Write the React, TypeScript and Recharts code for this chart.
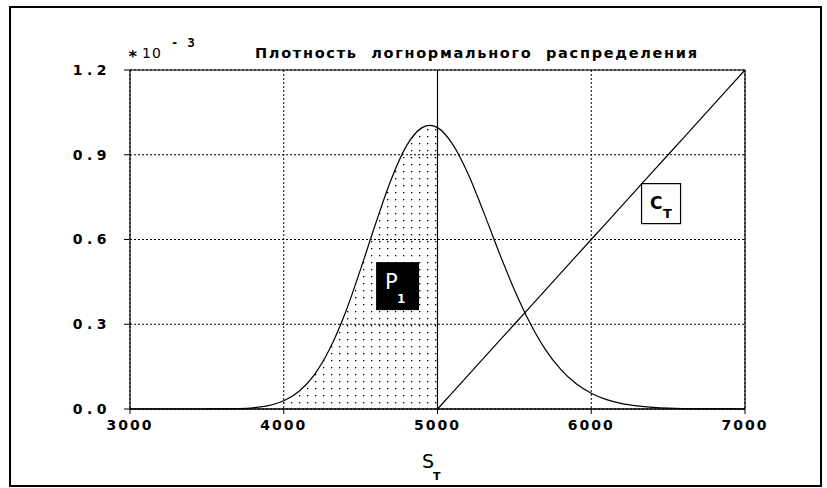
import React from "react";
import {ComposedChart, Line, Area, XAxis, YAxis, CartesianGrid, ReferenceLine, ReferenceDot} from "recharts";

// S_T grid (RUB), density in units of 1e-3
const sValues = [
  3000, 3100, 3200, 3300, 3400, 3500, 3600, 3700, 3800, 3900, 4000, 4100, 4200, 4300, 4400, 4500, 4600, 4700,
  4800, 4900, 4950, 5000, 5100, 5200, 5300, 5400, 5500, 5600, 5700, 5800, 5900, 6000, 6100, 6200, 6300, 6400,
  6500, 6600, 6700, 6800, 6900, 7000,
];
const density = [
  0, 0, 0, 0, 0, 0.0001, 0.0003, 0.0013, 0.0043, 0.0118, 0.029, 0.063, 0.122, 0.214, 0.34, 0.495, 0.66, 0.814,
  0.933, 0.996, 1.004, 0.996, 0.936, 0.831, 0.697, 0.555, 0.422, 0.306, 0.212, 0.141, 0.09, 0.056, 0.033, 0.019,
  0.011, 0.006, 0.003, 0.0015, 0.0007, 0.0003, 0.0001, 0,
];
// payoff line C_T
const ctValues = [
  null, null, null, null, null, null, null, null, null, null, null, null, null, null, null, null, null, null,
  null, null, null, 0, 0.06, 0.12, 0.18, 0.24, 0.3, 0.36, 0.42, 0.48, 0.54, 0.6, 0.66, 0.72, 0.78, 0.84,
  0.9, 0.96, 1.02, 1.08, 1.14, 1.2,
];
const strike = 5000;
const xTicks = [3000, 4000, 5000, 6000, 7000];
const yTicks = [0, 0.3, 0.6, 0.9, 1.2];

const rows = sValues.map((s, i) => ({
  s,
  density: density[i],
  shade: s <= strike ? density[i] : null,
  ct: ctValues[i],
}));

const xTickFont = {fill: "#000", fontSize: 14, fontWeight: 700, fontFamily: "DejaVu Sans", letterSpacing: 2};
const yTickFont = {fill: "#000", fontSize: 14, fontWeight: 700, fontFamily: "DejaVu Sans", letterSpacing: 4.5};

function P1Box(props: any) {
  const {cx, cy} = props;
  if (cx == null) return null;
  return (
    <g>
      <rect x={cx - 21} y={cy - 24} width={43} height={48} fill="#000" />
      <text x={cx - 12} y={cy + 3} fill="#fff" fontSize={21} fontFamily="DejaVu Sans">P</text>
      <text x={cx + 0} y={cy + 17} fill="#fff" fontSize={12} fontWeight={700} fontFamily="DejaVu Sans">1</text>
    </g>
  );
}

function CtBox(props: any) {
  const {cx, cy} = props;
  if (cx == null) return null;
  return (
    <g>
      <rect x={cx - 19.5} y={cy - 20} width={39} height={40} fill="#fff" stroke="#000" strokeWidth={1.2} />
      <text x={cx - 11} y={cy + 5} fill="#000" fontSize={17} fontWeight={700} fontFamily="DejaVu Sans">C</text>
      <text x={cx + 2} y={cy + 14} fill="#000" fontSize={13} fontWeight={700} fontFamily="DejaVu Sans">T</text>
    </g>
  );
}

export default function App() {
  return (
    <div style={{position: "absolute", left: 0, top: 0, width: 827, height: 488, background: "#fff"}}>
      <ComposedChart width={827} height={488} data={rows} margin={{top: 70, right: 82, bottom: 49, left: 70}}>
        <defs>
          <pattern id="dots" x="0" y="0" width="8" height="7" patternUnits="userSpaceOnUse">
            <rect x="3" y="3" width="1.3" height="1.3" fill="#000" />
          </pattern>
        </defs>
        <CartesianGrid stroke="#000" strokeDasharray="2 2" strokeWidth={1} />
        <XAxis
          dataKey="s"
          type="number"
          domain={[3000, 7000]}
          ticks={xTicks}
          height={30}
          tick={xTickFont}
          tickSize={5}
          tickMargin={6}
          axisLine={{stroke: "#000", strokeWidth: 1.5}}
          tickLine={{stroke: "#000"}}
        />
        <YAxis
          domain={[0, 1.2]}
          ticks={yTicks}
          width={60}
          tick={yTickFont}
          tickSize={6}
          tickMargin={13}
          tickFormatter={(v: number) => v.toFixed(1)}
          axisLine={{stroke: "#000", strokeWidth: 1.2}}
          tickLine={{stroke: "#000"}}
        />
        <ReferenceLine y={1.2} stroke="#000" strokeWidth={1.2} />
        <ReferenceLine x={7000} stroke="#000" strokeWidth={1.2} />
        <ReferenceLine x={strike} stroke="#000" strokeWidth={1.2} />
        <Area
          type="monotone"
          dataKey="shade"
          stroke="none"
          fill="url(#dots)"
          fillOpacity={1}
          isAnimationActive={false}
          connectNulls={false}
        />
        <Line type="monotone" dataKey="density" stroke="#000" strokeWidth={1.2} dot={false} isAnimationActive={false} />
        <Line type="linear" dataKey="ct" stroke="#000" strokeWidth={1.2} dot={false} isAnimationActive={false} />
        <ReferenceDot x={4737} y={0.435} r={0} shape={P1Box} />
        <ReferenceDot x={6454} y={0.727} r={0} shape={CtBox} />
      </ComposedChart>
      <svg width={827} height={488} style={{position: "absolute", left: 0, top: 0, pointerEvents: "none"}}>
        <rect x={10} y={7} width={811} height={479} fill="none" stroke="#000" strokeWidth={2} />
        <text
          x={255}
          y={58}
          fontSize={14.5}
          fontWeight={700}
          fontFamily="DejaVu Sans"
          textLength={442}
          lengthAdjust="spacing"
          style={{whiteSpace: "pre"}}
        >
          Плотность  логнормального  распределения
        </text>
        <text x={128} y={62} fontSize={16} fontWeight={700} fontFamily="DejaVu Sans Mono">*</text>
        <text x={142} y={58} fontSize={14} fontFamily="DejaVu Sans" letterSpacing={1}>10</text>
        <text x={171} y={47} fontSize={12} fontWeight={700} fontFamily="DejaVu Sans Mono" letterSpacing={1}>- 3</text>
        <text x={422} y={468} fontSize={19} fontFamily="DejaVu Sans">S</text>
        <text x={433} y={480} fontSize={11} fontWeight={700} fontFamily="DejaVu Sans">T</text>
      </svg>
    </div>
  );
}
